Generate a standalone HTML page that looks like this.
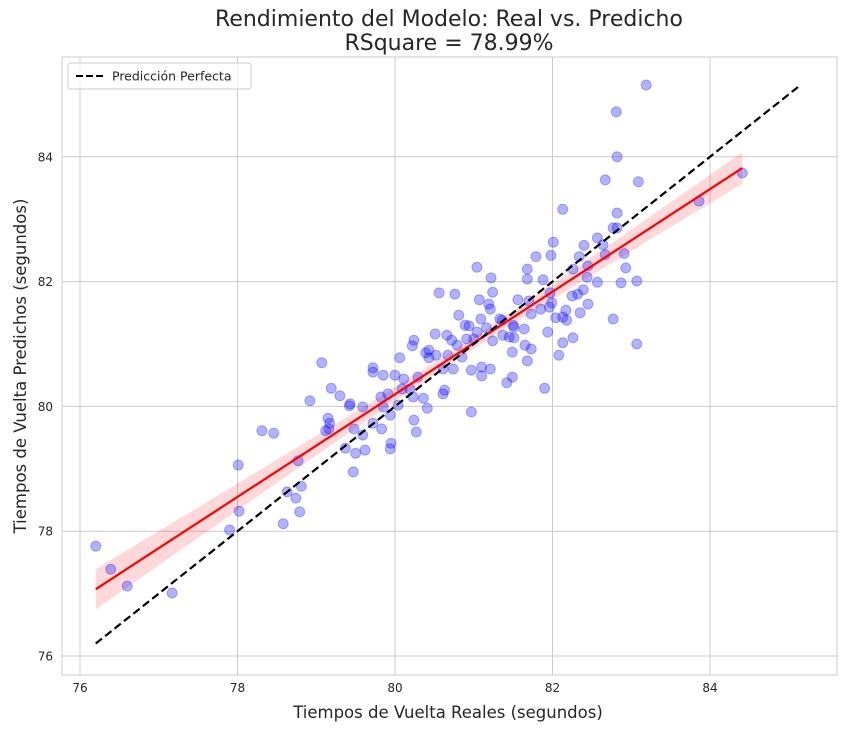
<!DOCTYPE html>
<html><head><meta charset="utf-8"><style>
body{margin:0;background:#fff;font-family:"Liberation Sans","DejaVu Sans",sans-serif}
svg text{font-family:"DejaVu Sans","Liberation Sans",sans-serif;fill:#262626}
</style></head><body>
<svg id="chart" width="845" height="730" xmlns="http://www.w3.org/2000/svg">
<text x="449" y="26" text-anchor="middle" font-size="22">Rendimiento del Modelo: Real vs. Predicho</text>
<text x="449" y="50" text-anchor="middle" font-size="22">RSquare = 78.99%</text>
<g id="grid"></g><g id="band"></g><g id="pts"></g><g id="lines"></g><g id="axes"></g>
<text x="448" y="718" text-anchor="middle" font-size="16.5">Tiempos de Vuelta Reales (segundos)</text>
<text transform="translate(26,366) rotate(-90)" text-anchor="middle" font-size="16.5">Tiempos de Vuelta Predichos (segundos)</text>
<g>
<rect x="68" y="63" width="183" height="26" rx="3" fill="#fff" fill-opacity="0.8" stroke="#ccc"/>
<line x1="76" y1="76" x2="104" y2="76" stroke="#000" stroke-width="2" stroke-dasharray="7,3"/>
<text x="112" y="80.5" font-size="12.5">Predicción Perfecta</text>
</g>
</svg>
<script>
const xTicks=[76,78,80,82,84];
const yTicks=[76,78,80,82,84];
const realX=[76.20,76.39,76.60,77.17,78.01,78.02,77.90,78.31,78.46,78.77,78.63,78.81,78.74,78.79,78.58,79.07,78.92,79.19,79.30,79.42,79.43,79.59,79.15,79.17,79.12,79.16,79.48,79.59,79.37,79.50,79.62,79.47,79.72,79.72,79.85,80.00,80.06,80.11,79.82,79.91,79.85,80.04,79.94,79.72,79.83,79.95,79.94,80.24,80.27,80.41,80.36,80.23,80.19,80.09,80.29,80.61,80.63,80.22,80.24,80.39,80.43,80.43,80.52,80.51,80.66,80.67,80.61,80.74,80.72,80.79,
83.19,82.81,82.82,82.67,83.09,82.13,82.82,82.77,82.82,82.57,82.01,82.64,82.40,81.79,81.98,82.34,82.67,82.91,84.41,83.86,
81.04,81.68,82.26,82.45,82.93,81.22,81.68,81.88,82.44,82.57,82.87,83.07,80.56,80.76,81.24,81.07,81.19,81.21,81.56,81.70,81.97,81.99,81.96,81.85,81.73,82.25,82.32,82.39,82.45,82.17,82.35,82.04,82.13,82.18,82.77,80.81,81.09,81.33,81.36,80.89,80.94,81.16,81.04,81.50,81.51,81.64,81.37,81.45,81.51,81.94,80.91,81.00,81.24,82.13,82.26,80.85,81.65,81.73,81.49,82.08,80.97,81.10,81.21,81.68,81.10,81.42,81.49,81.90,80.97,83.07];
const predY=[77.76,77.39,77.12,77.01,79.06,78.32,78.02,79.61,79.57,79.13,78.63,78.72,78.53,78.31,78.12,80.70,80.09,80.29,80.17,80.01,80.04,79.99,79.81,79.73,79.61,79.64,79.64,79.54,79.33,79.25,79.30,78.95,80.62,80.55,80.50,80.50,80.78,80.44,80.15,80.20,79.99,80.02,79.86,79.73,79.64,79.41,79.32,79.78,79.59,79.97,80.13,80.15,80.28,80.28,80.47,80.20,80.26,80.97,81.06,80.86,80.90,80.78,80.82,81.16,81.14,80.82,80.60,80.60,81.06,80.98,
85.15,84.72,84.00,83.63,83.60,83.16,83.10,82.86,82.86,82.70,82.63,82.59,82.58,82.40,82.42,82.40,82.43,82.45,83.74,83.29,
82.23,82.20,82.20,82.25,82.22,82.06,82.04,82.03,82.07,81.99,81.98,82.01,81.82,81.80,81.83,81.71,81.64,81.56,81.71,81.69,81.82,81.66,81.59,81.56,81.48,81.77,81.80,81.87,81.64,81.54,81.50,81.42,81.43,81.38,81.40,81.46,81.40,81.40,81.38,81.30,81.29,81.26,81.19,81.30,81.27,81.24,81.14,81.11,81.10,81.19,81.08,81.08,81.05,81.02,81.10,80.79,80.98,80.92,80.87,80.82,80.58,80.63,80.60,80.73,80.49,80.38,80.47,80.29,79.91,81.00];

const L=62,R=837,T=57,B=675;
const sx=v=>80+(v-76)*78.75;
const sy=v=>656-(v-76)*62.4;
const NS="http://www.w3.org/2000/svg";
function mk(tag,attrs,parent){const e=document.createElementNS(NS,tag);for(const k in attrs)e.setAttribute(k,attrs[k]);parent.appendChild(e);return e;}
const grid=document.getElementById('grid'),axes=document.getElementById('axes');
mk('rect',{x:L,y:T,width:R-L,height:B-T,fill:'#fff'},grid);
xTicks.forEach(t=>{
 const g=mk('line',{x1:sx(t),x2:sx(t),y1:T,y2:B,stroke:'#cccccc','stroke-width':1},grid);
 
 
 const tx=mk('text',{x:sx(t),y:B+17,'text-anchor':'middle','font-size':12},axes);
 tx.textContent=t;
 
 
});
yTicks.forEach(t=>{
 const g=mk('line',{x1:L,x2:R,y1:sy(t),y2:sy(t),stroke:'#cccccc','stroke-width':1},grid);
 
 
 const tx=mk('text',{x:L-9,y:sy(t)+4.5,'text-anchor':'end','font-size':12},axes);
 tx.textContent=t;
 
 
});
const frame=mk('rect',{x:L,y:T,width:R-L,height:B-T,fill:'none',stroke:'#cccccc','stroke-width':1},axes);



const pts=document.getElementById('pts');
realX.forEach((x,i)=>{
 const c=mk('circle',{cx:sx(x),cy:sy(predY[i]),r:5,fill:'rgba(0,0,255,0.3)',stroke:'rgba(0,0,255,0.3)','stroke-width':1},pts);
 
 
});

const n=realX.length;
const mx=realX.reduce((a,b)=>a+b,0)/n, my=predY.reduce((a,b)=>a+b,0)/n;
let sxx=0,sxy=0;realX.forEach((x,i)=>{sxx+=(x-mx)**2;sxy+=(x-mx)*(predY[i]-my);});
const b=sxy/sxx,a=my-b*mx;
let sse=0;realX.forEach((x,i)=>{sse+=(predY[i]-a-b*x)**2;});
const s=Math.sqrt(sse/(n-2));
const xmin=Math.min(...realX),xmax=Math.max(...realX);
const up=[],lo=[];
for(let k=0;k<=60;k++){const x=xmin+(xmax-xmin)*k/60;const y=a+b*x;const se=1.97*s*Math.sqrt(1/n+(x-mx)**2/sxx);
 up.push(sx(x)+','+sy(y+se));lo.unshift(sx(x)+','+sy(y-se));}
const band=mk('polygon',{points:up.concat(lo).join(' '),fill:'rgba(255,0,0,0.15)'},document.getElementById('band'));


const lines=document.getElementById('lines');
const rl=mk('line',{x1:sx(xmin),y1:sy(a+b*xmin),x2:sx(xmax),y2:sy(a+b*xmax),stroke:'#ff0000','stroke-width':2.2},lines);


const lmin=Math.min(xmin,...predY),lmax=Math.max(xmax,...predY);
const pl=mk('line',{x1:sx(lmin),y1:sy(lmin),x2:sx(lmax),y2:sy(lmax),stroke:'#000','stroke-width':2.2,'stroke-dasharray':'8,4'},lines);


</script>
</body></html>
